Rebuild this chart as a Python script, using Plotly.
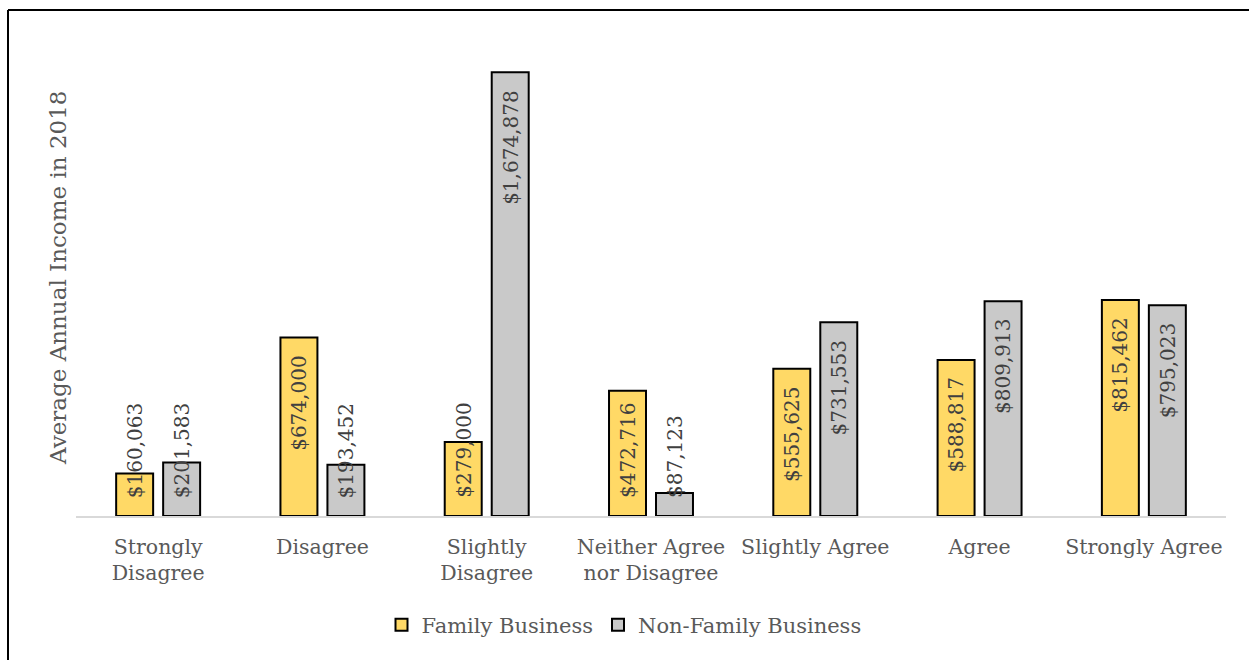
import plotly.graph_objects as go

categories = ["Strongly<br>Disagree", "Disagree", "Slightly<br>Disagree",
              "Neither Agree<br>nor Disagree", "Slightly Agree", "Agree", "Strongly Agree"]
family = [160063, 674000, 279000, 472716, 555625, 588817, 815462]
non_family = [201583, 193452, 1674878, 87123, 731553, 809913, 795023]
series_names = ["Family Business", "Non-Family Business"]
colors = ["#FFD966", "#C9C9C9"]

W, H = 1249, 660
ML, MR, MT, MB = 76, 23, 39, 144
YMAX = 1800000
BARGAP = 0.428
FONT = "DejaVu Serif"

fig = go.Figure()
for name, vals, col in zip(series_names, [family, non_family], colors):
    fig.add_trace(go.Bar(
        x=categories, y=vals, name=name,
        marker=dict(color=col, line=dict(color="#000000", width=2)),
    ))

# data labels
ppu = (H - MT - MB) / YMAX
off = (1 - BARGAP) / 4
annotations = []
for si, vals in enumerate([family, non_family]):
    for i, v in enumerate(vals):
        txt = "${:,}".format(v)
        L = len(txt) * 11.8
        x = i + (-off if si == 0 else off)
        if v * ppu >= 16 + L + 17:
            annotations.append(dict(x=x, y=v, xref="x", yref="y", text=txt, textangle=-90,
                                    showarrow=False, yanchor="top", xanchor="center", yshift=-16,
                                    font=dict(family=FONT, size=20, color="#404040")))
        else:
            annotations.append(dict(x=x, y=0, xref="x", yref="y", text=txt, textangle=-90,
                                    showarrow=False, yanchor="bottom", xanchor="center", yshift=16,
                                    font=dict(family=FONT, size=20, color="#404040")))

pw = W - ML - MR
ph = H - MT - MB
def px(xp):
    return (xp - ML) / pw
def py(yp):
    return (H - MB - yp) / ph

annotations.append(dict(x=px(58), y=py(278), xref="paper", yref="paper",
                        text="Average Annual Income in 2018", textangle=-90, showarrow=False,
                        xanchor="center", yanchor="middle",
                        font=dict(family=FONT, size=23, color="#595959")))

shapes = [
    dict(type="line", xref="paper", yref="paper", x0=px(8), x1=px(W + 5), y0=py(10), y1=py(10),
         line=dict(color="#000000", width=2)),
    dict(type="line", xref="paper", yref="paper", x0=px(8), x1=px(8), y0=py(10), y1=py(H + 5),
         line=dict(color="#000000", width=2)),
]

fig.update_layout(
    width=W, height=H,
    margin=dict(l=ML, r=MR, t=MT, b=MB),
    paper_bgcolor="white", plot_bgcolor="white",
    barmode="group", bargap=BARGAP, bargroupgap=0.213,
    font=dict(family=FONT, size=20, color="#595959"),
    xaxis=dict(showline=True, linecolor="#D9D9D9", linewidth=2, ticks="", showgrid=False,
               ticklabelstandoff=11,
               tickfont=dict(family=FONT, size=20.5, color="#595959")),
    yaxis=dict(range=[0, YMAX], showticklabels=False, showgrid=False, zeroline=False, showline=False),
    legend=dict(orientation="h", x=0.5 - 27 / pw, xanchor="center", y=py(625), yanchor="middle",
                font=dict(family=FONT, size=21, color="#595959")),
    annotations=annotations,
    shapes=shapes,
)

fig.write_html("out.html")
